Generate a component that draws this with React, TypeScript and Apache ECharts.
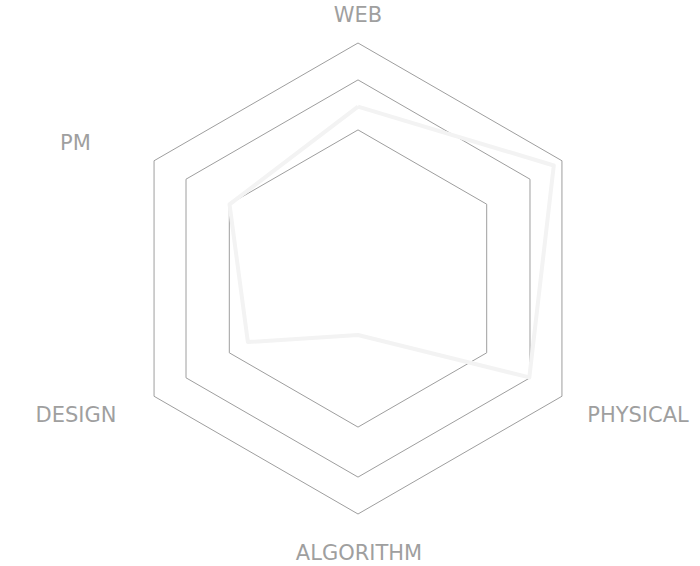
import React, { useEffect, useRef } from "react";
import * as echarts from "echarts";

const indicatorNames = ["WEB", "PM", "DESIGN", "ALGORITHM", "PHYSICAL", ""];
const maxValue = 100;
const skillValues = [73, 63, 54, 24, 84, 96];
const ringRadii = [235.5, 198.6, 148.6];
const labelOffsets: [number, number][] = [
  [0, -264],
  [-282.5, -135.5],
  [-282, 136.5],
  [1, 274.5],
  [280, 136.5],
];

export default function App() {
  const ref = useRef<HTMLDivElement>(null);
  useEffect(() => {
    if (!ref.current) return;
    const chart = echarts.init(ref.current, null, { renderer: "svg" });
    const cx = 358;
    const cy = 278.5;
    const indicator = indicatorNames.map((name) => ({ name, min: 0, max: maxValue }));
    const radar = ringRadii.map((r) => ({
      center: [cx, cy],
      radius: r,
      startAngle: 90,
      splitNumber: 1,
      shape: "polygon",
      indicator,
      axisName: { show: false },
      axisLine: { show: false },
      axisTick: { show: false },
      splitArea: { show: false },
      splitLine: { lineStyle: { color: "#9e9e9e", width: 1 } },
    }));
    chart.setOption({
      animation: false,
      backgroundColor: "#ffffff",
      radar,
      series: [
        {
          type: "radar",
          radarIndex: 0,
          symbol: "none",
          lineStyle: { color: "#f3f3f3", width: 4 },
          data: [{ value: skillValues, name: "skills" }],
        },
      ],
      graphic: labelOffsets.map((o, i) => ({
        type: "text",
        x: cx + o[0],
        y: cy + o[1],
        style: {
          text: indicatorNames[i],
          fill: "#9f9f9f",
          font: "normal 21px 'DejaVu Sans'",
          align: "center",
          verticalAlign: "middle",
        },
      })),
    });
    return () => chart.dispose();
  }, []);
  return (
    <div
      ref={ref}
      style={{ position: "fixed", left: 0, top: 0, width: 700, height: 566 }}
    />
  );
}
